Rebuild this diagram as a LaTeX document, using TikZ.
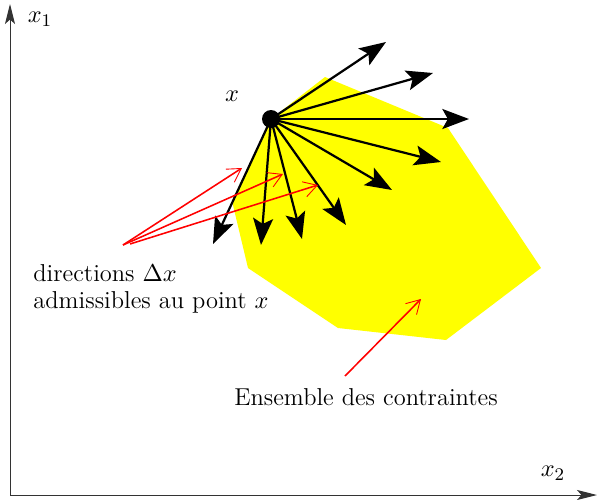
\documentclass[tikz,border=0pt]{standalone}
\usetikzlibrary{arrows.meta}
\definecolor{cyell}{RGB}{255,255,0}
\definecolor{cred}{RGB}{255,0,0}
\begin{document}
\begin{tikzpicture}[x=0.45pt,y=-0.45pt,
  axis/.style={line width=0.45pt,draw=black!80,-{Stealth[length=9pt,width=4.5pt,inset=2pt]}},
  dir/.style={line width=1pt,-{Stealth[length=12pt,width=9pt,inset=2.5pt]}},
  redarr/.style={cred,line width=0.7pt,-{Straight Barb[length=6pt,width=7pt,line width=0.4pt]}},
  lbl/.style={inner sep=0pt,font=\fontsize{11}{13}\selectfont}]
\useasboundingbox (0,0) rectangle (599,499);
% axes
\coordinate (O) at (10,495);
\coordinate (Y) at (10,4);
\coordinate (X) at (597,495);
\draw[axis] (O) -- (Y);
\draw[axis] (O) -- (X);
\node[lbl] (lx1) at (40,19) {$x_1$};
\node[lbl] (lx2) at (553,473) {$x_2$};
% constraint set
\coordinate (P) at (271,119);
\fill[cyell] (P) -- (325,77) -- (448,128) -- (541,268) -- (446,340) -- (338,328) -- (248,268) -- (232,201) -- cycle;
% directions
\foreach \n/\x/\y in {a/386/42, b/433/73, c/469/119, d/441/162, e/392/190, f/346/225, g/302/239, h/261/245, i/213/244}
  {\coordinate (\n) at (\x,\y); \draw[dir] (P) -- (\n);}
\fill (P) circle (9);
\node[lbl] (lx) at (232,96) {$x$};
% labels
\node[lbl,anchor=west] (t1) at (33,273) {directions $\Delta x$};
\node[lbl,anchor=west] (t2) at (33,302) {admissibles au point $x$};
\node[lbl] (t3) at (366,397) {Ensemble des contraintes};
% red arrows
\coordinate (s1) at (123,245);
\coordinate (s2) at (130,244);
\coordinate (r1) at (242,168);
\coordinate (r2) at (283,174);
\coordinate (r3) at (318,185);
\draw[redarr] (s1) -- (r1);
\draw[redarr] (s1) -- (r2);
\draw[redarr] (s2) -- (r3);
\coordinate (s3) at (345,376);
\coordinate (r4) at (421,299);
\draw[redarr] (s3) -- (r4);
\end{tikzpicture}
\end{document}
